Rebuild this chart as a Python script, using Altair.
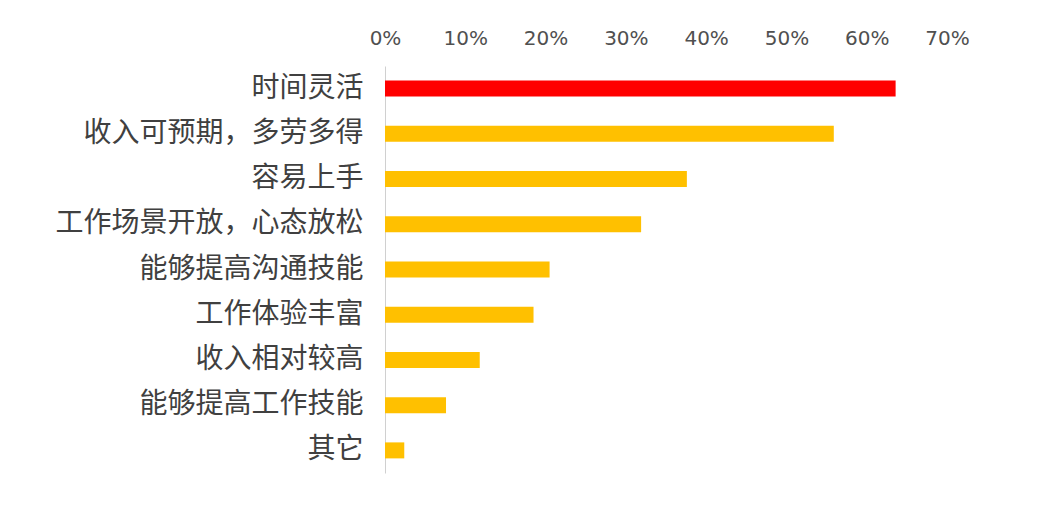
import altair as alt
import pandas as pd

categories = ["时间灵活", "收入可预期，多劳多得", "容易上手", "工作场景开放，心态放松",
              "能够提高沟通技能", "工作体验丰富", "收入相对较高", "能够提高工作技能", "其它"]
values = [0.636, 0.559, 0.376, 0.319, 0.205, 0.185, 0.118, 0.076, 0.024]
highlight = ["yes", "no", "no", "no", "no", "no", "no", "no", "no"]
tick_values = [0, 0.1, 0.2, 0.3, 0.4, 0.5, 0.6, 0.7]

df = pd.DataFrame({"cat": categories, "val": values, "hl": highlight})

chart = alt.Chart(df).mark_bar(size=16).encode(
    y=alt.Y("cat:N", sort=categories, title=None,
            scale=alt.Scale(paddingInner=0.64, paddingOuter=0.32),
            axis=alt.Axis(labelFont="Noto Sans CJK SC", labelFontSize=28, labelColor="#404040",
                          labelPadding=22, ticks=False, domainColor="#D0D0D0", domainWidth=1,
                          labelLimit=400)),
    x=alt.X("val:Q", title=None,
            scale=alt.Scale(domain=[0, 0.7], nice=False),
            axis=alt.Axis(orient="top", values=tick_values, format=".0%", grid=False,
                          domain=False, ticks=False, labelFont="DejaVu Sans",
                          labelFontSize=20, labelColor="#505050", labelPadding=18,
                          labelFlush=False)),
    color=alt.Color("hl:N", scale=alt.Scale(domain=["yes", "no"], range=["#FF0000", "#FFC000"]),
                    legend=None),
).properties(
    width=562, height=407, background="white",
    padding={"left": 46, "top": 20, "right": 5, "bottom": 5},
).configure_view(strokeWidth=0)

chart.save("out.html", embed_options={"renderer": "svg", "actions": False})
